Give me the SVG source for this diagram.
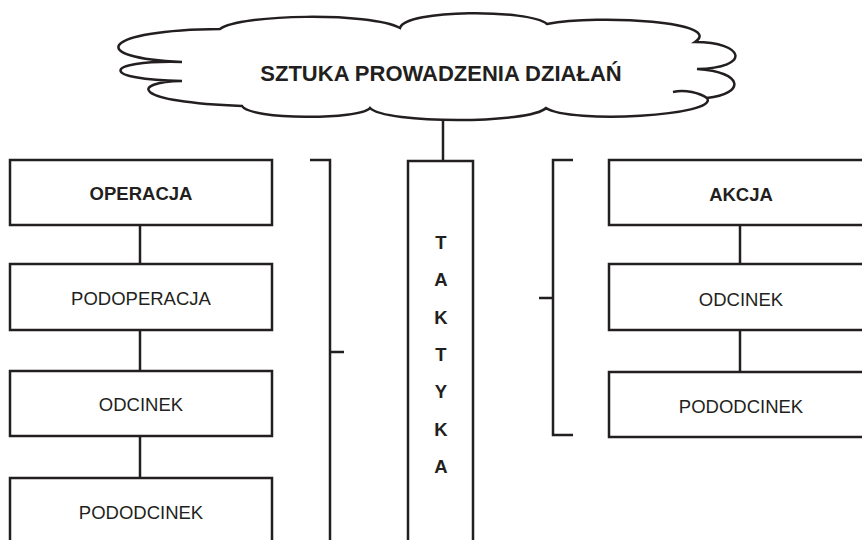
<svg xmlns="http://www.w3.org/2000/svg" width="862" height="540" viewBox="0 0 862 540">
<style>
.ln{fill:none;stroke:#231f20;stroke-width:2.5}
.box{fill:#fff;stroke:#231f20;stroke-width:2.5}
.t{font-family:"Liberation Sans",Arial,sans-serif;font-size:18.5px;fill:#231f20;text-anchor:middle}
.b{font-weight:bold}
</style>
<rect width="862" height="540" fill="#fff"/>
<g id="connectors">
<line class="ln" x1="443" y1="118" x2="443" y2="161"/>
<line class="ln" x1="140" y1="225" x2="140" y2="264"/>
<line class="ln" x1="140" y1="330" x2="140" y2="371"/>
<line class="ln" x1="140" y1="436" x2="140" y2="478"/>
<line class="ln" x1="740" y1="225" x2="740" y2="264"/>
<line class="ln" x1="740" y1="330" x2="740" y2="372"/>
<path class="ln" d="M310,160 H330 V545 M330,352 H344"/>
<path class="ln" d="M573,160 H553 V435 H573 M553,298 H539"/>
</g>
<g id="cloud">
<path class="ln" fill="#fff" style="fill:#fff" d="M220,29 C240,14 370,12 400,28 C405,9 530,9 547,24 C600,14 725,22 695,42 C745,42 752,68 697,69 C745,72 745,94 707,98 C720,116 570,124 546,108 C530,124 385,124 370,108 C360,120 250,120 242,106 C130,102 130,82 182,81 C100,80 100,60 182,62 C85,58 100,30 220,29 Z"/>
<path class="ln" d="M673,92 C685,89 700,93 707,98"/>
<text class="t b" x="441" y="81" style="font-size:22px">SZTUKA PROWADZENIA DZIAŁAŃ</text>
</g>
<g id="operacja">
<rect class="box" x="10" y="160" width="262" height="65"/>
<text class="t b" x="141" y="200">OPERACJA</text>
</g>
<g id="podoperacja">
<rect class="box" x="10" y="264" width="262" height="66"/>
<text class="t" x="141" y="305">PODOPERACJA</text>
</g>
<g id="odcinek-left">
<rect class="box" x="10" y="371" width="262" height="65"/>
<text class="t" x="141" y="411">ODCINEK</text>
</g>
<g id="pododcinek-left">
<rect class="box" x="10" y="478" width="262" height="70"/>
<text class="t" x="141" y="519">PODODCINEK</text>
</g>
<g id="taktyka">
<rect class="box" x="408" y="161" width="65" height="390"/>
<text class="t b" x="441" y="249">T</text>
<text class="t b" x="441" y="286">A</text>
<text class="t b" x="441" y="324">K</text>
<text class="t b" x="441" y="361">T</text>
<text class="t b" x="441" y="398">Y</text>
<text class="t b" x="441" y="436">K</text>
<text class="t b" x="441" y="473">A</text>
</g>
<g id="akcja">
<rect class="box" x="609" y="160" width="264" height="65"/>
<text class="t b" x="741" y="201">AKCJA</text>
</g>
<g id="odcinek-right">
<rect class="box" x="609" y="264" width="264" height="66"/>
<text class="t" x="741" y="306">ODCINEK</text>
</g>
<g id="pododcinek-right">
<rect class="box" x="609" y="372" width="264" height="65"/>
<text class="t" x="741" y="413">PODODCINEK</text>
</g>
</svg>
